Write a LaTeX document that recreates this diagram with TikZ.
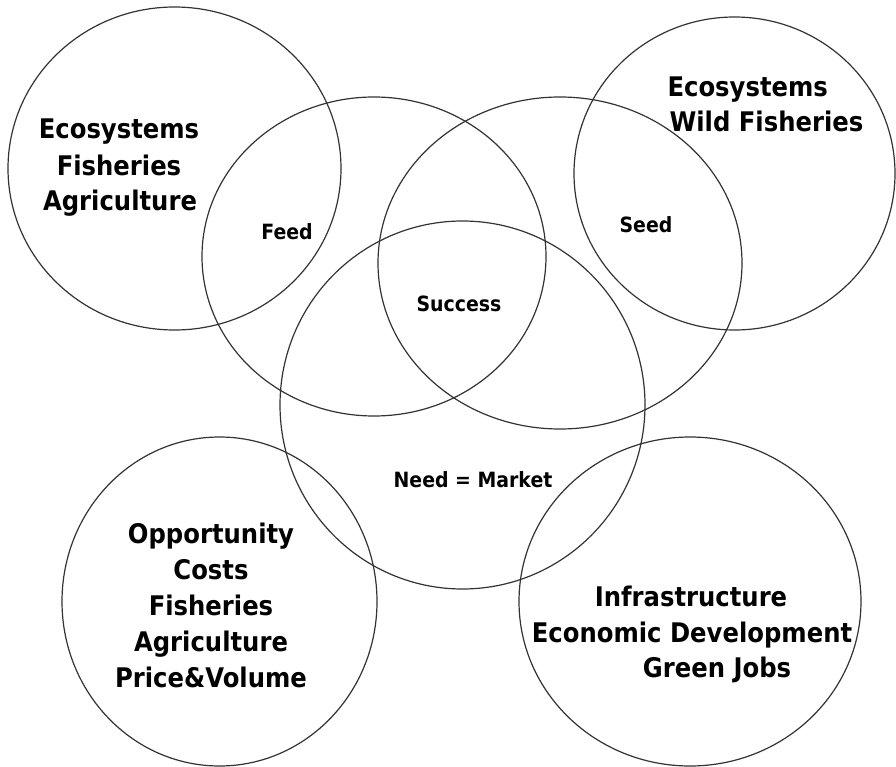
\documentclass[tikz,border=0pt]{standalone}
\usepackage{graphicx}
\usepackage{fontspec}
\setmainfont{DejaVu Sans}
\newcommand{\sqz}[1]{\scalebox{0.9}[1]{#1}}
\begin{document}
\begin{tikzpicture}[x=1pt,y=-1pt,
  ring/.style={draw=black!80,line width=1.2pt},
  big/.style={font=\bfseries\fontsize{27}{36}\selectfont,anchor=base},
  small/.style={font=\bfseries\fontsize{21}{26}\selectfont,anchor=base}]
\useasboundingbox (0,0) rectangle (896,767);
\fill[white] (0,0) rectangle (896,767);
% circles
\draw[ring] (174.5,168.5) ellipse [x radius=166.5,y radius=161.5];
\draw[ring] (374,256.5) ellipse [x radius=172,y radius=159.5];
\draw[ring] (560,263) ellipse [x radius=182,y radius=166];
\draw[ring] (734.5,173.5) ellipse [x radius=160.5,y radius=156.5];
\draw[ring] (462.5,405) ellipse [x radius=182.5,y radius=184];
\draw[ring] (219.5,601.5) ellipse [x radius=157.5,y radius=164.5];
\draw[ring] (690,601.5) ellipse [x radius=171,y radius=164.5];
% texts
\node[big] (tl1) at (119,139) {\sqz{Ecosystems}};
\node[big] (tl2) at (119,176) {\sqz{Fisheries}};
\node[big] (tl3) at (120,211) {\sqz{Agriculture}};
\node[small] (feed) at (287,240) {\sqz{Feed}};
\node[small] (seed) at (646,233) {\sqz{Seed}};
\node[small] (succ) at (459,311) {\sqz{Success}};
\node[small] (need) at (473,487) {\sqz{Need = Market}};
\node[big,anchor=base west] (tr1) at (664,97) {\sqz{Ecosystems}};
\node[big,anchor=base west] (tr2) at (666,132) {\sqz{Wild Fisheries}};
\node[big] (bl1) at (211,543) {\sqz{Opportunity}};
\node[big] (bl2) at (211,579) {\sqz{Costs}};
\node[big] (bl3) at (211,615) {\sqz{Fisheries}};
\node[big] (bl4) at (211,651) {\sqz{Agriculture}};
\node[big] (bl5) at (211,687) {\sqz{Price\&Volume}};
\node[big] (br1) at (691,606) {\sqz{Infrastructure}};
\node[big] (br2) at (692,642) {\sqz{Economic Development}};
\node[big] (br3) at (717,677) {\sqz{Green Jobs}};
\end{tikzpicture}
\end{document}
